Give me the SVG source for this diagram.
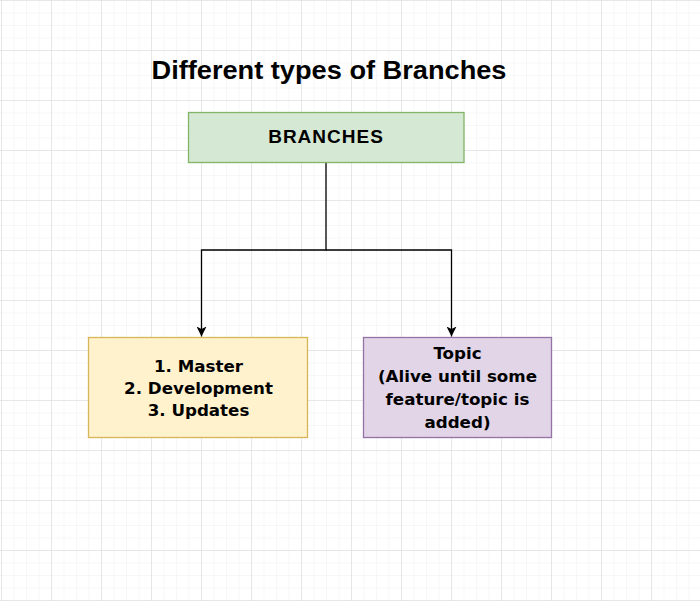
<svg xmlns="http://www.w3.org/2000/svg" width="700" height="601" viewBox="0 0 700 601">
<defs>
<pattern id="minor" x="1" y="0" width="12.5" height="12.5" patternUnits="userSpaceOnUse">
<path d="M0 0V12.5M0 0H12.5" fill="none" stroke="#f0f0f0" stroke-width="1"/>
</pattern>
<pattern id="major" x="1" y="0" width="50" height="50" patternUnits="userSpaceOnUse">
<path d="M0 0V50M0 0H50" fill="none" stroke="#d8d8d8" stroke-width="1"/>
</pattern>
<marker id="arr" viewBox="0 0 10 10" refX="10" refY="5" markerWidth="10" markerHeight="10" markerUnits="userSpaceOnUse" orient="auto">
<path d="M0 0L10 5L0 10L2.5 5Z" fill="#000"/>
</marker>
</defs>
<style>
.lbl{font-family:"DejaVu Sans",Verdana,sans-serif;font-weight:bold;font-size:16.7px;fill:#000;text-anchor:middle}
.edge{fill:none;stroke:#000;stroke-width:1.3}
</style>
<rect width="700" height="601" fill="#fff"/>
<rect width="700" height="601" fill="url(#minor)"/>
<rect width="700" height="601" fill="url(#major)"/>
<text x="329" y="78.5" font-family="Liberation Sans,Arial,sans-serif" font-weight="bold" font-size="25.5" text-anchor="middle" textLength="355" lengthAdjust="spacingAndGlyphs">Different types of Branches</text>
<g id="connectors">
<path class="edge" d="M326 162.5V250H201.5V336.5" marker-end="url(#arr)"/>
<path class="edge" d="M326 250H451.5V336.5" marker-end="url(#arr)"/>
</g>
<g id="branches">
<rect x="188.5" y="112.5" width="275.5" height="50" fill="#d5e8d4" stroke="#82b366" stroke-width="1.3"/>
<text x="326" y="143" font-family="Liberation Sans,Arial,sans-serif" font-weight="bold" font-size="19" letter-spacing="1" text-anchor="middle">BRANCHES</text>
</g>
<g id="main-branches">
<rect x="88.5" y="337.5" width="219" height="100" fill="#fff2cc" stroke="#d6b656" stroke-width="1.3"/>
<text class="lbl" x="198.5" y="371.5">1. Master</text>
<text class="lbl" x="198.5" y="394">2. Development</text>
<text class="lbl" x="198.5" y="415.5">3. Updates</text>
</g>
<g id="topic">
<rect x="363.5" y="337.5" width="188" height="100" fill="#e1d5e7" stroke="#9673a6" stroke-width="1.3"/>
<text class="lbl" x="457.5" y="358.5">Topic</text>
<text class="lbl" x="457.5" y="382">(Alive until some</text>
<text class="lbl" x="457.5" y="405">feature/topic is</text>
<text class="lbl" x="457.5" y="427.5">added)</text>
</g>
</svg>
